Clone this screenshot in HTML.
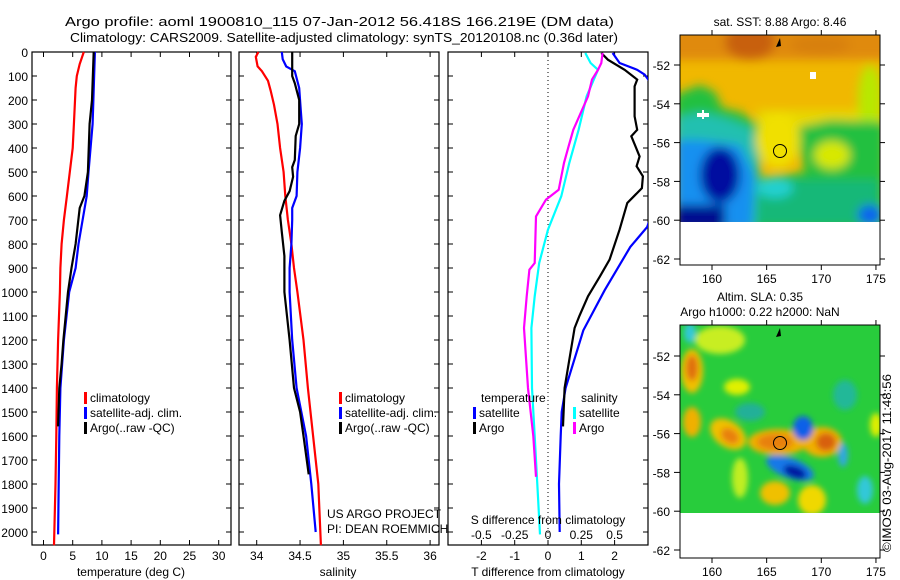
<!DOCTYPE html>
<html><head><meta charset="utf-8"><style>
html,body{margin:0;padding:0;background:#fff;}
svg{display:block;font-family:"Liberation Sans",sans-serif;}
text{fill:#000;}
</style></head><body>
<svg id="chart" width="900" height="580" viewBox="0 0 900 580" xmlns="http://www.w3.org/2000/svg">
<defs>
<filter id="blur3" x="-20%" y="-20%" width="140%" height="140%"><feGaussianBlur stdDeviation="3"/></filter>
<filter id="blur5" x="-20%" y="-20%" width="140%" height="140%"><feGaussianBlur stdDeviation="5"/></filter>
<clipPath id="clipP3"><rect x="448" y="52" width="200" height="493"/></clipPath>
<clipPath id="clipM1"><rect x="680" y="35" width="200" height="187"/></clipPath>
<clipPath id="clipM2"><rect x="680" y="325" width="200" height="188"/></clipPath>
</defs>
<text x="65" y="26" font-size="13" textLength="549" lengthAdjust="spacingAndGlyphs">Argo profile: aoml 1900810_115 07-Jan-2012 56.418S 166.219E (DM data)</text>
<text x="70" y="42" font-size="13" textLength="548" lengthAdjust="spacingAndGlyphs">Climatology: CARS2009. Satellite-adjusted climatology: synTS_20120108.nc (0.36d later)</text>
<g id="panels"></g>
<g id="maps">
 <text x="780" y="26" font-size="12" text-anchor="middle">sat. SST: 8.88 Argo: 8.46</text>
 <g clip-path="url(#clipM1)">
  <rect x="680" y="35" width="200" height="187" fill="#f0b800"/>
  <g filter="url(#blur5)">
   <rect x="670" y="25" width="220" height="35" fill="#e08a10"/>
   <ellipse cx="750" cy="42" rx="25" ry="18" fill="#c86010"/>
   <ellipse cx="820" cy="45" rx="30" ry="10" fill="#d88010"/>
   <rect x="757" y="110" width="125" height="25" fill="#e8d800"/>
   <ellipse cx="870" cy="100" rx="12" ry="35" fill="#b8e800"/>
   <polygon points="675,95 700,85 715,92 722,108 740,112 760,125 760,230 675,230" fill="#20c040"/>
   <polygon points="675,118 700,112 725,118 752,128 758,160 756,230 675,230" fill="#20c0b0"/>
   <polygon points="675,140 700,140 740,145 755,175 752,230 675,230" fill="#1890f0"/>
   <ellipse cx="720" cy="175" rx="20" ry="28" fill="#0010a0"/>
   <rect x="675" y="205" width="50" height="25" fill="#000c90"/>
   <polygon points="795,128 830,120 885,122 885,230 760,230 760,178 805,172" fill="#20c040"/>
   <ellipse cx="832" cy="155" rx="18" ry="14" fill="#d8e800"/>
   <ellipse cx="778" cy="140" rx="22" ry="28" fill="#f0e000"/>
   <rect x="758" y="180" width="120" height="45" fill="#18b878"/>
   <ellipse cx="775" cy="188" rx="18" ry="10" fill="#20d0d0"/>
   <ellipse cx="870" cy="215" rx="12" ry="10" fill="#1060f0"/>
  </g>
 </g>
 <rect x="680" y="35" width="200" height="230" fill="none" stroke="#000" stroke-width="1"/>
 <rect x="810" y="72" width="6" height="7" fill="#fff"/>
 <rect x="697" y="113" width="12" height="4" fill="#fff"/><rect x="702" y="110" width="2" height="9" fill="#fff"/>
 <path d="M776,47 L780,38 L781,46 Z" fill="#000"/>
 <circle cx="780" cy="151" r="6.5" fill="none" stroke="#000" stroke-width="1"/>
 <g id="m1ticks"></g>
 <text x="760" y="301" font-size="12" text-anchor="middle">Altim. SLA: 0.35</text>
 <text x="760" y="316" font-size="12" text-anchor="middle">Argo h1000: 0.22 h2000: NaN</text>
 <g clip-path="url(#clipM2)">
  <rect x="680" y="325" width="200" height="188" fill="#28cc3c"/>
  <g filter="url(#blur3)">
   <ellipse cx="720" cy="340" rx="25" ry="14" fill="#c8ee20"/>
   <ellipse cx="690" cy="333" rx="6" ry="10" fill="#30c8d8"/>
   <ellipse cx="692" cy="371" rx="11" ry="22" fill="#f0c000"/>
   <ellipse cx="692" cy="368" rx="6" ry="13" fill="#e07010"/>
   <ellipse cx="737" cy="387" rx="13" ry="8" fill="#e0f000"/>
   <ellipse cx="750" cy="412" rx="15" ry="9" fill="#20b098"/>
   <ellipse cx="692" cy="422" rx="9" ry="15" fill="#f0b000"/>
   <ellipse cx="728" cy="434" rx="20" ry="13" fill="#f0c000" transform="rotate(35 728 434)"/>
   <ellipse cx="730" cy="436" rx="10" ry="7" fill="#e88010" transform="rotate(35 730 436)"/>
   <ellipse cx="778" cy="442" rx="30" ry="13" fill="#f0b000"/>
   <ellipse cx="775" cy="442" rx="18" ry="8" fill="#e88010"/>
   <ellipse cx="822" cy="442" rx="20" ry="15" fill="#f0b000"/>
   <ellipse cx="826" cy="442" rx="10" ry="9" fill="#d86010"/>
   <ellipse cx="803" cy="428" rx="10" ry="12" fill="#1060e8"/>
   <ellipse cx="790" cy="468" rx="25" ry="10" fill="#1878e8" transform="rotate(20 790 468)"/>
   <ellipse cx="795" cy="472" rx="12" ry="6" fill="#0018a0" transform="rotate(20 795 472)"/>
   <ellipse cx="775" cy="493" rx="15" ry="12" fill="#f0c000"/>
   <ellipse cx="812" cy="500" rx="14" ry="15" fill="#f0d800"/>
   <ellipse cx="876" cy="425" rx="6" ry="12" fill="#e0ee00"/>
   <ellipse cx="843" cy="455" rx="5" ry="12" fill="#30a8e0"/>
   <ellipse cx="865" cy="490" rx="8" ry="14" fill="#30c8d8"/>
   <ellipse cx="845" cy="395" rx="12" ry="15" fill="#20b898"/>
   <ellipse cx="740" cy="478" rx="8" ry="20" fill="#c0ee20"/>
  </g>
 </g>
 <rect x="680" y="325" width="200" height="233" fill="none" stroke="#000" stroke-width="1"/>
 <path d="M776,337 L780,328 L781,336 Z" fill="#000"/>
 <circle cx="780" cy="443" r="6.5" fill="none" stroke="#000" stroke-width="1"/>
 <g id="m2ticks"></g>
 <text transform="translate(891,552) rotate(-90)" font-size="12" textLength="178" lengthAdjust="spacingAndGlyphs">©IMOS 03-Aug-2017 11:48:56</text>
</g>
<script>
const depthTicks = [0,100,200,300,400,500,600,700,800,900,1000,1100,1200,1300,1400,1500,1600,1700,1800,1900,2000];
const tempTicks = [0,5,10,15,20,25,30];
const salTicks = [34,34.5,35,35.5,36];
const salTickLabels = ['34','34.5','35','35.5','36'];
const tdiffTicks = [-2,-1,0,1,2];
const sdiffTicks = [-0.5,-0.25,0,0.25,0.5];
const sdiffTickLabels = ['-0.5','-0.25','0','0.25','0.5'];

const climTDepth = [0,50,100,150,300,400,500,600,700,800,900,1000,1200,1400,1600,1800,2055];
const climTVal =   [6.9,6.2,5.7,5.5,5.2,5.0,4.5,4.0,3.5,3.1,2.9,2.8,2.5,2.3,2.2,2.05,1.8];
const satTDepth = [0,300,500,600,700,800,900,1000,1200,1400,1600,1800,2010];
const satTVal =   [8.8,8.4,7.7,7.4,6.7,6.0,5.5,4.4,3.5,2.9,2.7,2.6,2.5];
const argoTDepth = [0,200,300,500,600,650,800,900,1000,1200,1300,1400,1560];
const argoTVal =   [8.6,8.3,7.9,7.6,7.0,6.2,5.5,4.8,4.2,3.4,3.1,2.7,2.5];

const climSDepth = [0,20,60,80,120,160,220,300,400,500,600,700,800,900,1000,1200,1400,1600,1800,2055];
const climSVal =   [34.02,33.99,34.01,34.06,34.13,34.16,34.20,34.24,34.27,34.31,34.33,34.36,34.40,34.43,34.47,34.54,34.59,34.65,34.71,34.74];
const satSDepth = [0,30,60,80,150,250,300,400,500,600,650,700,800,900,1000,1200,1400,1600,1800,2000];
const satSVal =   [34.29,34.30,34.34,34.44,34.49,34.51,34.52,34.50,34.47,34.46,34.41,34.41,34.40,34.38,34.38,34.41,34.46,34.57,34.63,34.68];
const argoSDepth = [0,100,130,200,300,350,450,480,520,580,620,680,750,850,950,1000,1200,1400,1500,1600,1760];
const argoSVal =   [34.41,34.41,34.44,34.49,34.49,34.45,34.44,34.41,34.42,34.38,34.32,34.27,34.29,34.32,34.32,34.32,34.38,34.43,34.50,34.54,34.60];

const satDTDepth = [4,46,74,94,150,300,400,550,700,729,812,993,1160,1400,1500,1600,1800,2000];
const satDTVal =   [1.94,2.15,2.68,2.9,3.2,3.05,3.3,3.2,3.05,2.98,2.47,1.7,1.06,0.53,0.41,0.38,0.33,0.35];
const argoDTDepth = [4,32,74,115,143,268,324,351,435,476,518,567,629,740,865,935,1018,1101,1150,1300,1400,1560];
const argoDTVal =   [1.6,1.8,2.3,2.68,2.6,2.6,2.68,2.5,2.75,2.66,2.85,2.82,2.38,2.15,1.85,1.56,1.2,0.94,0.8,0.62,0.5,0.45];
const satDSDepth = [4,46,74,185,324,462,601,740,879,1018,1150,1400,1600,1800,2010];
const satDSVal =   [0.28,0.32,0.375,0.29,0.23,0.16,0.10,0.0,-0.066,-0.1,-0.125,-0.12,-0.1,-0.08,-0.06];
const argoDSDepth = [4,46,74,115,185,324,393,462,574,615,685,879,907,1018,1150,1400,1600,1770];
const argoDSVal =   [0.41,0.40,0.375,0.33,0.30,0.19,0.155,0.12,0.08,-0.015,-0.09,-0.10,-0.14,-0.16,-0.18,-0.15,-0.11,-0.09];

const latTicks = [-52,-54,-56,-58,-60,-62];
const lonTicks = [160,165,170,175];

const NS='http://www.w3.org/2000/svg';
const TOP=52, BOT=545;
function yD(d){return TOP+0.24*d;}
function xT(v){return 43.5+5.84*v;}
function xS(v){return 256.7+86.7*(v-34);}
function xDT(v){return 548+33.3*v;}
function xDS(v){return 548+133.2*v;}
function el(tag,attrs,parent){const e=document.createElementNS(NS,tag);for(const k in attrs)e.setAttribute(k,attrs[k]);parent.appendChild(e);return e;}
function txt(s,x,y,anchor,size,parent){const t=el('text',{x:x,y:y,'text-anchor':anchor,'font-size':size},parent);t.textContent=s;return t;}
const P=document.getElementById('panels');

function frame(x0,x1,name){
  const r=el('rect',{x:x0,y:TOP,width:x1-x0,height:BOT-TOP,fill:'none',stroke:'#000','stroke-width':1.2},P);
  
  
  depthTicks.forEach(d=>{
    el('line',{x1:x0,y1:yD(d),x2:x0+5,y2:yD(d),stroke:'#000'},P);
    el('line',{x1:x1,y1:yD(d),x2:x1-5,y2:yD(d),stroke:'#000'},P);
  });
}
function line(depths,vals,xf,color,name,clip){
  const pts=depths.map((d,i)=>xf(vals[i]).toFixed(1)+','+yD(d).toFixed(1)).join(' ');
  const p=el('polyline',{points:pts,fill:'none',stroke:color,'stroke-width':2.2},P);
  if(clip)p.setAttribute('clip-path','url(#clipP3)');
  
  
}
function xticks(ticks,labels,xf,x0,ylab,bottom){
  ticks.forEach((v,i)=>{
    const x=xf(v);
    if(bottom){el('line',{x1:x,y1:BOT,x2:x,y2:BOT-5,stroke:'#000'},P);el('line',{x1:x,y1:TOP,x2:x,y2:TOP+5,stroke:'#000'},P);}
    const t=txt(labels[i],x,ylab,'middle',12,P);
    
    
  });
}

frame(32,231,'temperature-panel');
depthTicks.forEach(d=>{const t=txt(String(d),28,yD(d)+5,'end',12,P);
  
  });
xticks(tempTicks,tempTicks.map(String),xT,32,560,true);
txt('temperature (deg C)',131,576,'middle',12,P);
line(climTDepth,climTVal,xT,'#ff0000','temp-climatology-line');
line(satTDepth,satTVal,xT,'#0000ff','temp-satellite-line');
line(argoTDepth,argoTVal,xT,'#000000','temp-argo-line');

frame(239,439,'salinity-panel');
xticks(salTicks,salTickLabels,xS,239,560,true);
txt('salinity',338,576,'middle',12,P);
line(climSDepth,climSVal,xS,'#ff0000','sal-climatology-line');
line(satSDepth,satSVal,xS,'#0000ff','sal-satellite-line');
line(argoSDepth,argoSVal,xS,'#000000','sal-argo-line');

function legend(x,y,items,pname){
  items.forEach((it,i)=>{
    el('rect',{x:x,y:y+i*15-10,width:3,height:12,fill:it[1]},P);
    const t=txt(it[0],x+6,y+i*15,'start',12,P);
    
    
  });
}
const legItems=[['climatology','#ff0000'],['satellite-adj. clim.','#0000ff'],['Argo(..raw -QC)','#000000']];
legend(84,402,legItems,'temperature');
legend(339,402,legItems,'salinity');
txt('US ARGO PROJECT',327,518,'start',12,P);
txt('PI: DEAN ROEMMICH',327,533,'start',12,P);

frame(448,648,'difference-panel');
el('line',{x1:xDT(0),y1:TOP,x2:xDT(0),y2:BOT,stroke:'#000','stroke-dasharray':'1,3'},P);
xticks(tdiffTicks,tdiffTicks.map(String),xDT,448,560,true);
xticks(sdiffTicks,sdiffTickLabels,xDS,448,539,false);
txt('T difference from climatology',548,576,'middle',12,P);
line(satDTDepth,satDTVal,xDT,'#0000ff','tdiff-satellite-line',true);
line(argoDTDepth,argoDTVal,xDT,'#000000','tdiff-argo-line',true);
line(satDSDepth,satDSVal,xDS,'#00ffff','sdiff-satellite-line',true);
line(argoDSDepth,argoDSVal,xDS,'#ff00ff','sdiff-argo-line',true);
txt('S difference from climatology',548,524,'middle',12,P);
txt('temperature',481,402,'start',12,P);
txt('salinity',581,402,'start',12,P);
legend(473,417,[['satellite','#0000ff'],['Argo','#000000']],'tdiff');
legend(573,417,[['satellite','#00ffff'],['Argo','#ff00ff']],'sdiff');

function mapTicks(gid,y0,yBot,latY0){
  const g=document.getElementById(gid);
  latTicks.forEach(lat=>{
    const y=latY0+(-52-lat)*19.4;
    el('line',{x1:674,y1:y,x2:680,y2:y,stroke:'#000'},g);
    el('line',{x1:880,y1:y,x2:885,y2:y,stroke:'#000'},g);
    const t=txt(String(lat),670,y+5,'end',12,g);
    
    
  });
  lonTicks.forEach(lon=>{
    const x=712+10.93*(lon-160);
    el('line',{x1:x,y1:yBot,x2:x,y2:yBot+5,stroke:'#000'},g);
    el('line',{x1:x,y1:y0,x2:x,y2:y0-5,stroke:'#000'},g);
    const t=txt(String(lon),x,yBot+18,'middle',12,g);
    
    
  });
}
mapTicks('m1ticks',35,265,65);
mapTicks('m2ticks',325,558,356);
</script>
</svg>
</body></html>
